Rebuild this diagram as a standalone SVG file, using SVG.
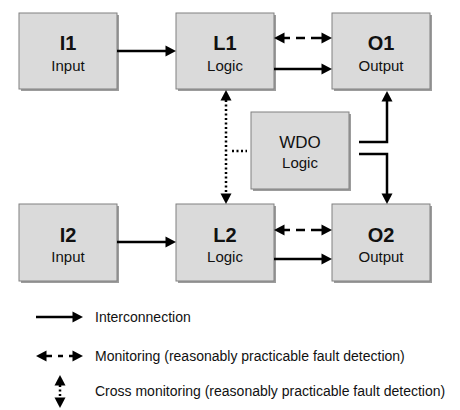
<svg xmlns="http://www.w3.org/2000/svg" width="460" height="410" viewBox="0 0 460 410">
  <style>
    .shadow { fill: #9c9c9c; }
    .box { fill: #dadada; stroke: #808080; stroke-width: 1; }
    .title { font-family: "Liberation Sans", Arial, sans-serif; font-size: 20px; font-weight: bold; fill: #111; text-anchor: middle; }
    .wdo { font-family: "Liberation Sans", Arial, sans-serif; font-size: 17px; fill: #111; text-anchor: middle; }
    .sub { font-family: "Liberation Sans", Arial, sans-serif; font-size: 15px; fill: #111; text-anchor: middle; }
    .legend { font-family: "Liberation Sans", Arial, sans-serif; font-size: 14px; fill: #111; }
    .wire { fill: none; stroke: #000; stroke-width: 2.5; }
    .dotted { stroke-dasharray: 2 2.5; }
  </style>
  <defs>
    <!-- arrowhead: base sits on the path end, tip extends 10px beyond it -->
    <marker id="head" markerUnits="userSpaceOnUse" markerWidth="12" markerHeight="12" viewBox="0 0 12 12" refX="1" refY="6" orient="auto-start-reverse">
      <path d="M0.5,0.5 L11,6 L0.5,11.5 Z" fill="#000"/>
    </marker>
  </defs>

  <!-- blocks -->
  <g id="I1">
    <rect class="shadow" x="21" y="15" width="98" height="76"/>
    <rect class="box" x="19" y="13" width="98" height="76"/>
    <text class="title" x="68" y="50">I1</text>
    <text class="sub" x="68" y="71">Input</text>
  </g>
  <g id="L1">
    <rect class="shadow" x="178" y="15" width="98" height="76"/>
    <rect class="box" x="176" y="13" width="98" height="76"/>
    <text class="title" x="225" y="50">L1</text>
    <text class="sub" x="225" y="71">Logic</text>
  </g>
  <g id="O1">
    <rect class="shadow" x="334" y="15" width="98" height="76"/>
    <rect class="box" x="332" y="13" width="98" height="76"/>
    <text class="title" x="381" y="50">O1</text>
    <text class="sub" x="381" y="71">Output</text>
  </g>
  <g id="WDO">
    <rect class="shadow" x="253" y="114" width="98" height="77"/>
    <rect class="box" x="251" y="112" width="98" height="77"/>
    <text class="wdo" x="300" y="148">WDO</text>
    <text class="sub" x="300" y="168">Logic</text>
  </g>
  <g id="I2">
    <rect class="shadow" x="21" y="206" width="98" height="77"/>
    <rect class="box" x="19" y="204" width="98" height="77"/>
    <text class="title" x="68" y="242">I2</text>
    <text class="sub" x="68" y="262">Input</text>
  </g>
  <g id="L2">
    <rect class="shadow" x="178" y="206" width="98" height="77"/>
    <rect class="box" x="176" y="204" width="98" height="77"/>
    <text class="title" x="225" y="242">L2</text>
    <text class="sub" x="225" y="262">Logic</text>
  </g>
  <g id="O2">
    <rect class="shadow" x="334" y="206" width="98" height="77"/>
    <rect class="box" x="332" y="204" width="98" height="77"/>
    <text class="title" x="381" y="242">O2</text>
    <text class="sub" x="381" y="262">Output</text>
  </g>

  <!-- connectors -->
  <g id="connectors">
    <path class="wire" d="M117,51 H166" marker-end="url(#head)"/>
    <path class="wire" d="M274,69 H322" marker-end="url(#head)"/>
    <path class="wire" d="M284,38 H290 M296,38 H305 M311,38 H322" marker-start="url(#head)" marker-end="url(#head)"/>
    <path class="wire" d="M117,242 H166" marker-end="url(#head)"/>
    <path class="wire" d="M274,259 H322" marker-end="url(#head)"/>
    <path class="wire" d="M284,230 H290 M296,230 H305 M311,230 H322" marker-start="url(#head)" marker-end="url(#head)"/>
    <path class="wire dotted" d="M226,100 V194" marker-start="url(#head)" marker-end="url(#head)"/>
    <path class="wire dotted" d="M232,151 H247"/>
    <path class="wire" d="M359,142 H387 V101" marker-end="url(#head)"/>
    <path class="wire" d="M359,154 H387 V194" marker-end="url(#head)"/>
  </g>

  <!-- key -->
  <g id="legend">
    <path class="wire" d="M36,317 H73" marker-end="url(#head)"/>
    <text class="legend" x="95" y="322">Interconnection</text>
    <path class="wire" d="M46,356 H52 M58,356 H63 M69,356 H73" marker-start="url(#head)" marker-end="url(#head)"/>
    <text class="legend" x="95" y="361">Monitoring (reasonably practicable fault detection)</text>
    <path class="wire dotted" d="M60,385 V398" marker-start="url(#head)" marker-end="url(#head)"/>
    <text class="legend" x="95" y="396">Cross monitoring (reasonably practicable fault detection)</text>
  </g>
</svg>
